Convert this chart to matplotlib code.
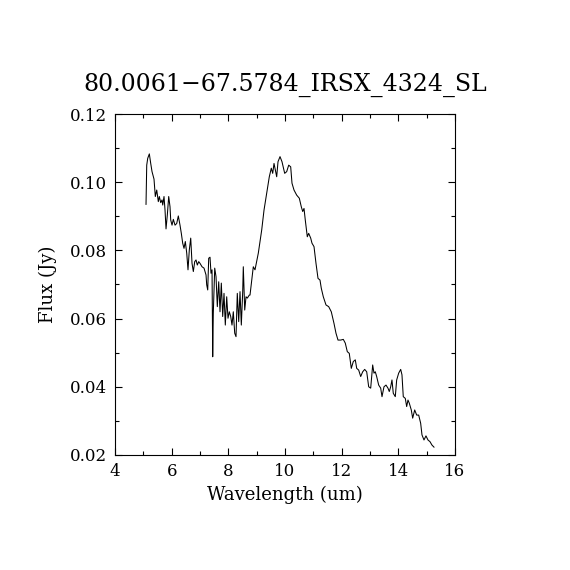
import numpy as np
import matplotlib
matplotlib.use('Agg')
import matplotlib.pyplot as plt
from matplotlib.ticker import MultipleLocator

# spectrum
wave = [5.094, 5.119, 5.154, 5.211, 5.260, 5.306, 5.376, 5.422, 5.472, 5.528,
        5.564, 5.613, 5.659, 5.684, 5.729, 5.765, 5.800, 5.846, 5.895, 5.941,
        5.966, 6.012, 6.058, 6.118, 6.178, 6.234, 6.294, 6.340, 6.389, 6.435,
        6.481, 6.531, 6.576, 6.622, 6.672, 6.718, 6.764, 6.813, 6.859, 6.905,
        6.954, 7.000, 7.071, 7.141, 7.212, 7.236, 7.272, 7.307, 7.353, 7.388,
        7.424, 7.448, 7.469, 7.519, 7.565, 7.611, 7.660, 7.706, 7.752, 7.801,
        7.847, 7.893, 7.942, 7.988, 8.034, 8.084, 8.129, 8.175, 8.225, 8.271,
        8.316, 8.366, 8.412, 8.458, 8.507, 8.528, 8.578, 8.624, 8.669, 8.740,
        8.765, 8.881, 8.941, 9.058, 9.178, 9.259, 9.354, 9.446, 9.516, 9.566,
        9.612, 9.658, 9.707, 9.753, 9.824, 9.894, 9.989, 10.060, 10.131, 10.201,
        10.247, 10.318, 10.413, 10.505, 10.575, 10.625, 10.671, 10.716, 10.787, 10.836,
        10.907, 10.953, 11.024, 11.094, 11.165, 11.235, 11.281, 11.352, 11.447, 11.542,
        11.634, 11.729, 11.800, 11.871, 11.966, 12.058, 12.128, 12.199, 12.269, 12.340,
        12.411, 12.481, 12.531, 12.601, 12.672, 12.742, 12.813, 12.884, 12.954, 13.025,
        13.095, 13.141, 13.187, 13.236, 13.307, 13.378, 13.424, 13.494, 13.565, 13.635,
        13.681, 13.731, 13.776, 13.822, 13.893, 13.942, 14.013, 14.084, 14.129, 14.175,
        14.246, 14.295, 14.341, 14.387, 14.458, 14.507, 14.578, 14.648, 14.719, 14.789,
        14.835, 14.906, 14.976, 15.047, 15.118, 15.188, 15.259]
flux = [0.0935, 0.1050, 0.1070, 0.1083, 0.1055, 0.1031, 0.1009, 0.0958, 0.0977, 0.0943,
        0.0958, 0.0940, 0.0948, 0.0933, 0.0958, 0.0918, 0.0863, 0.0904, 0.0958, 0.0928,
        0.0889, 0.0874, 0.0891, 0.0874, 0.0879, 0.0901, 0.0874, 0.0850, 0.0821, 0.0806,
        0.0826, 0.0792, 0.0743, 0.0801, 0.0836, 0.0762, 0.0738, 0.0767, 0.0772, 0.0757,
        0.0767, 0.0762, 0.0752, 0.0748, 0.0728, 0.0699, 0.0684, 0.0777, 0.0780, 0.0733,
        0.0743, 0.0488, 0.0616, 0.0748, 0.0723, 0.0635, 0.0708, 0.0620, 0.0704, 0.0606,
        0.0674, 0.0581, 0.0664, 0.0601, 0.0620, 0.0606, 0.0581, 0.0620, 0.0557, 0.0547,
        0.0674, 0.0591, 0.0679, 0.0581, 0.0679, 0.0752, 0.0625, 0.0664, 0.0660, 0.0669,
        0.0669, 0.0752, 0.0743, 0.0792, 0.0860, 0.0918, 0.0967, 0.1016, 0.1041, 0.1026,
        0.1055, 0.1036, 0.1016, 0.1060, 0.1075, 0.1060, 0.1026, 0.1031, 0.1050, 0.1045,
        0.0997, 0.0977, 0.0962, 0.0953, 0.0928, 0.0914, 0.0923, 0.0889, 0.0840, 0.0850,
        0.0836, 0.0821, 0.0811, 0.0762, 0.0718, 0.0713, 0.0689, 0.0664, 0.0640, 0.0635,
        0.0620, 0.0586, 0.0557, 0.0537, 0.0537, 0.0539, 0.0528, 0.0503, 0.0498, 0.0454,
        0.0474, 0.0479, 0.0454, 0.0449, 0.0430, 0.0444, 0.0451, 0.0444, 0.0400, 0.0396,
        0.0464, 0.0440, 0.0444, 0.0430, 0.0405, 0.0396, 0.0371, 0.0400, 0.0405, 0.0396,
        0.0386, 0.0400, 0.0420, 0.0381, 0.0371, 0.0420, 0.0440, 0.0451, 0.0435, 0.0371,
        0.0366, 0.0342, 0.0361, 0.0352, 0.0332, 0.0308, 0.0332, 0.0317, 0.0317, 0.0293,
        0.0259, 0.0244, 0.0256, 0.0244, 0.0239, 0.0229, 0.0223]

title = '80.0061\u221267.5784_IRSX_4324_SL'

plt.rcParams['font.family'] = ['DejaVu Serif']

fig = plt.figure(figsize=(5.7, 5.7), dpi=100)
ax = fig.add_axes([0.2018, 0.2018, 0.5964, 0.5982])
ax.plot(wave, flux, color='black', lw=0.75)

ax.set_xlim(4, 16)
ax.set_ylim(0.02, 0.12)
ax.xaxis.set_major_locator(MultipleLocator(2))
ax.xaxis.set_minor_locator(MultipleLocator(1))
ax.yaxis.set_major_locator(MultipleLocator(0.02))
ax.yaxis.set_minor_locator(MultipleLocator(0.01))
ax.yaxis.set_major_formatter(plt.FuncFormatter(lambda v, p: '%.2f' % v))
ax.tick_params(which='both', direction='in', top=True, right=True, width=0.8, labelsize=12)
ax.tick_params(axis='x', which='major', pad=6)
ax.tick_params(axis='y', which='major', pad=6)
ax.tick_params(which='major', length=5)
ax.tick_params(which='minor', length=3)
for s in ax.spines.values():
    s.set_linewidth(0.8)

ax.set_xlabel('Wavelength (um)', fontsize=13, labelpad=4)
ax.set_ylabel('Flux (Jy)', fontsize=13, labelpad=9)
ax.set_title(title, fontsize=17, pad=17)

fig.savefig('out.png', dpi=100)
